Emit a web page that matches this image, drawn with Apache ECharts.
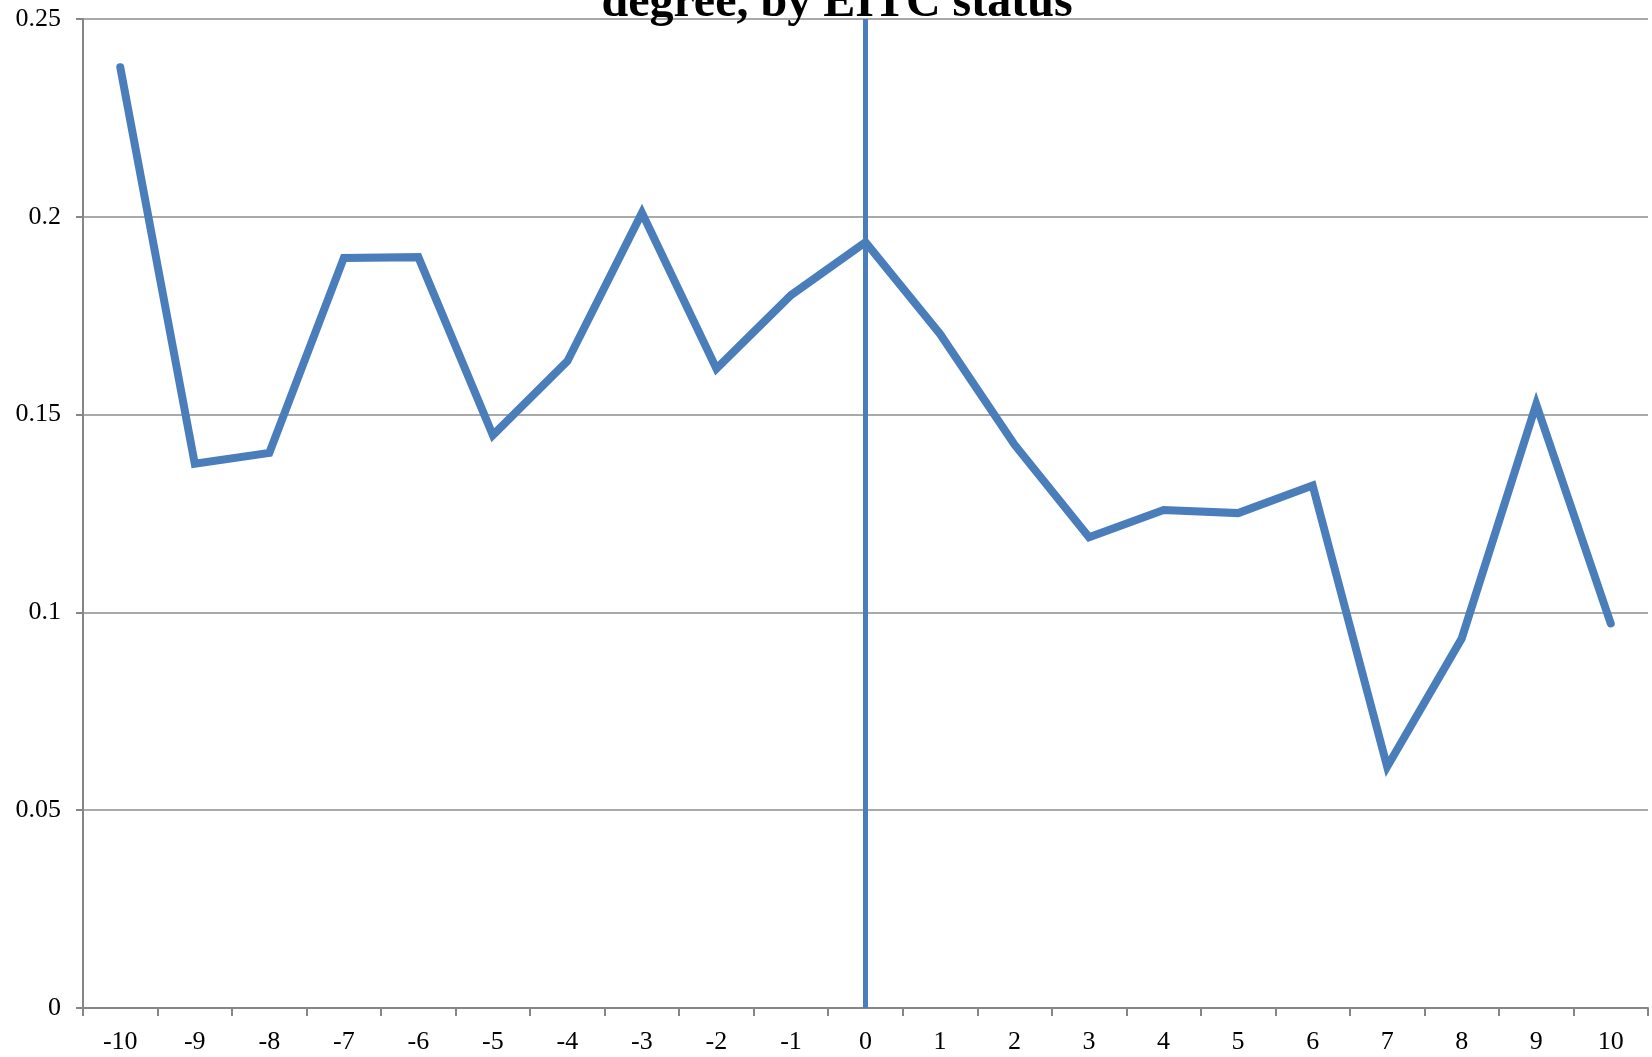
<!DOCTYPE html>
<html><head><meta charset="utf-8">
<script src="https://cdn.jsdelivr.net/npm/echarts@6/dist/echarts.min.js"></script>
<style>html,body{margin:0;padding:0;background:#fff}#c{width:1652px;height:1057px}</style>
</head><body><div id="c"></div>
<script>
var categories = ['-10','-9','-8','-7','-6','-5','-4','-3','-2','-1','0','1','2','3','4','5','6','7','8','9','10'];
var values = [0.2378,0.1376,0.1403,0.1896,0.1898,0.1448,0.1635,0.2010,0.1616,0.1802,0.1936,0.1704,0.1424,0.1190,0.1259,0.1251,0.1321,0.0610,0.0934,0.1526,0.0972];
var titleText = 'degree, by EITC status';
var font = '"Liberation Serif", "DejaVu Serif", serif';
var chart = echarts.init(document.getElementById('c'));
chart.setOption({
  animation: false,
  title: { text: titleText, left: 832, top: -25, textAlign: 'center',
    textStyle: { fontFamily: font, fontWeight: 'bold', fontSize: 48, color: '#000' } },
  grid: { left: 83, right: 4, top: 19, bottom: 49, containLabel: false },
  xAxis: { type: 'category', data: categories, boundaryGap: true,
    axisLine: { lineStyle: { color: '#868686', width: 2 } },
    axisTick: { show: true, length: 8, lineStyle: { color: '#868686', width: 2 } },
    axisLabel: { fontFamily: font, fontSize: 26, color: '#000', margin: 21 },
    splitLine: { show: false } },
  yAxis: { type: 'value', min: 0, max: 0.25, interval: 0.05,
    axisLine: { show: true, lineStyle: { color: '#868686', width: 2 } },
    axisTick: { show: true, length: 7, lineStyle: { color: '#868686', width: 2 } },
    axisLabel: { fontFamily: font, fontSize: 26, color: '#000', margin: 22,
      formatter: function(v){ return String(Math.round(v*100)/100); } },
    splitLine: { show: true, lineStyle: { color: '#8c8c8c', width: 1.5 } } },
  series: [{
    type: 'line', data: values, symbol: 'none',
    lineStyle: { color: '#4a7ebb', width: 8, cap: 'round', join: 'miter' },
    markLine: { silent: true, symbol: ['none','none'], label: { show: false },
      lineStyle: { color: '#4a7ebb', width: 5, type: 'solid' },
      data: [{ xAxis: '0' }] }
  }]
});
</script></body></html>
